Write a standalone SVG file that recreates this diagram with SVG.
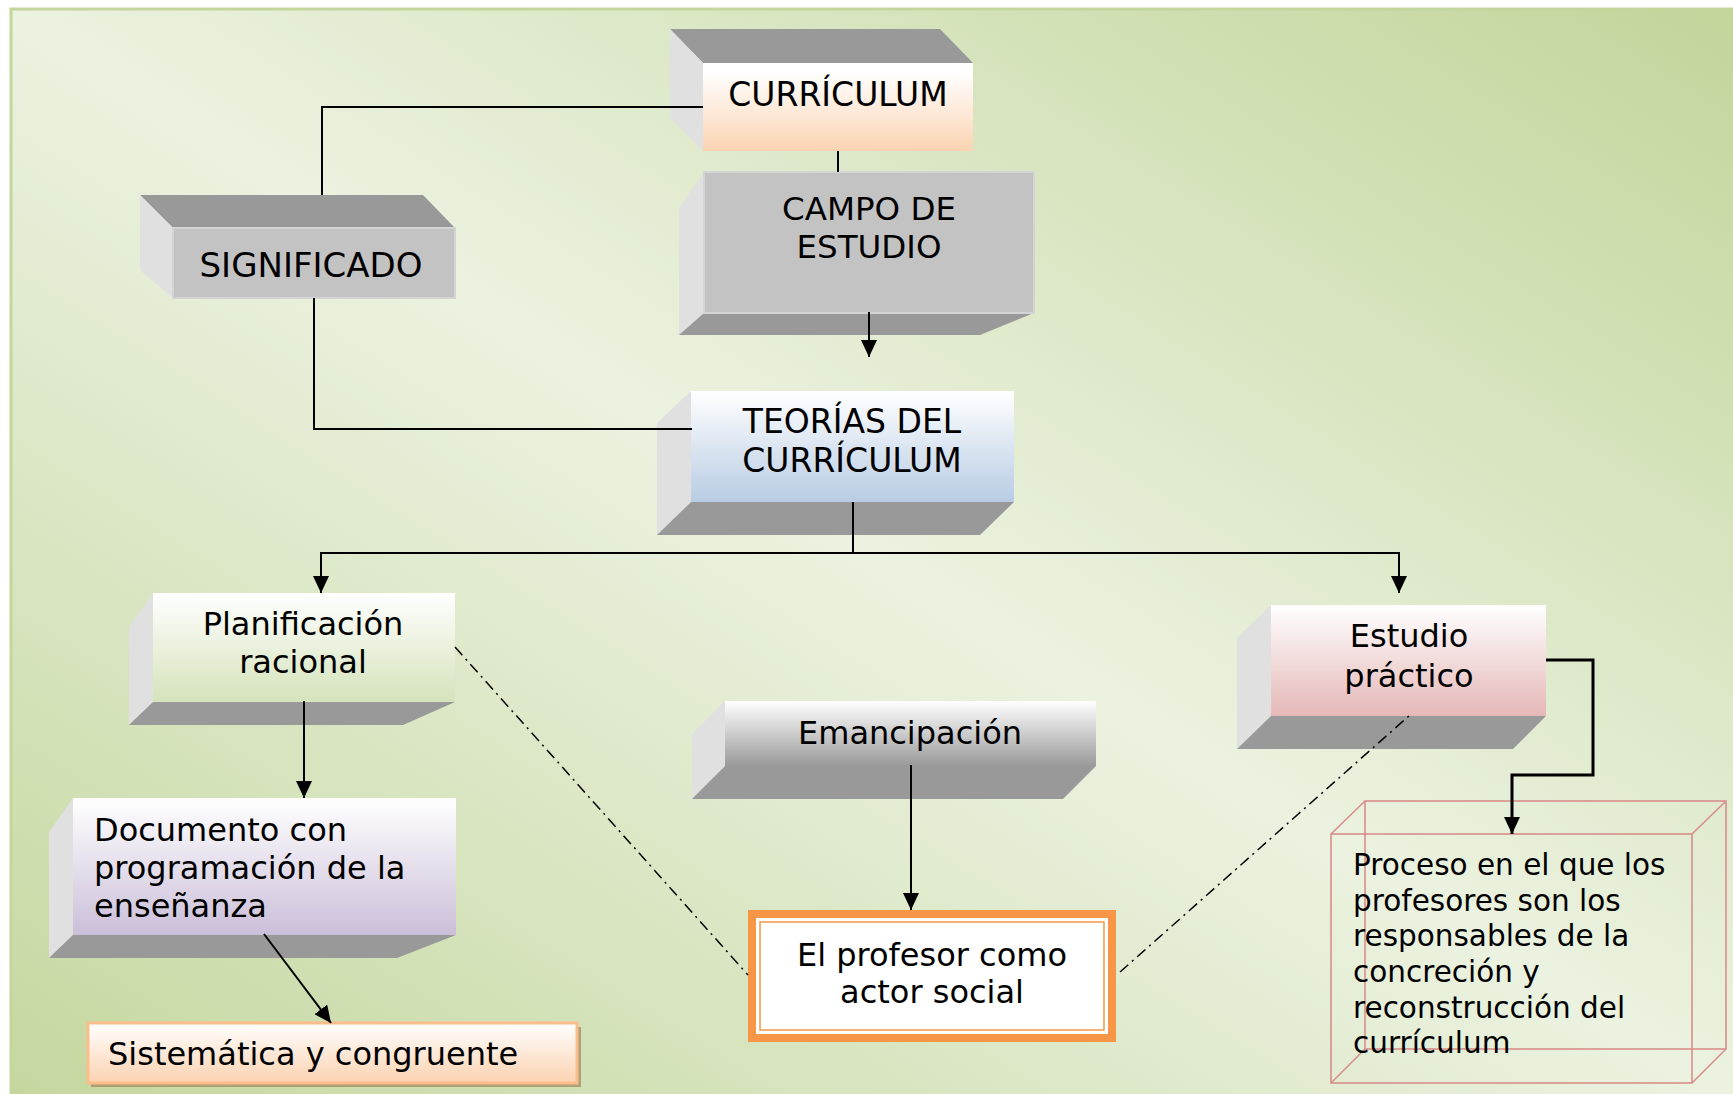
<svg xmlns="http://www.w3.org/2000/svg" width="1733" height="1094" viewBox="0 0 1733 1094">
<defs>
<linearGradient id="bg" x1="1" y1="0" x2="0" y2="1">
<stop offset="0" stop-color="#c2d59a"/>
<stop offset="0.5" stop-color="#ebf2e0"/>
<stop offset="1" stop-color="#c5d79f"/>
</linearGradient>
<linearGradient id="gPeach" x1="0" y1="0" x2="0" y2="1"><stop offset="0.1" stop-color="#ffffff"/><stop offset="1" stop-color="#fbd3b2"/></linearGradient>
<linearGradient id="gBlue" x1="0" y1="0" x2="0" y2="1"><stop offset="0" stop-color="#ffffff"/><stop offset="1" stop-color="#b8cce4"/></linearGradient>
<linearGradient id="gGreen" x1="0" y1="0" x2="0" y2="1"><stop offset="0" stop-color="#ffffff"/><stop offset="1" stop-color="#d5e3bb"/></linearGradient>
<linearGradient id="gPurple" x1="0" y1="0" x2="0" y2="1"><stop offset="0" stop-color="#ffffff"/><stop offset="1" stop-color="#cbbfd9"/></linearGradient>
<linearGradient id="gPink" x1="0" y1="0" x2="0" y2="1"><stop offset="0" stop-color="#ffffff"/><stop offset="1" stop-color="#e5b8b7"/></linearGradient>
<linearGradient id="gGray" x1="0" y1="0" x2="0" y2="1"><stop offset="0" stop-color="#ffffff"/><stop offset="1" stop-color="#9a9a9a"/></linearGradient>
<linearGradient id="gSist" x1="0" y1="0" x2="0" y2="1"><stop offset="0" stop-color="#ffffff"/><stop offset="1" stop-color="#fbd2b0"/></linearGradient>
<marker id="arr" markerUnits="userSpaceOnUse" markerWidth="17" markerHeight="16" refX="17" refY="8" orient="auto">
<path d="M0,0 L17,8 L0,16 z" fill="#000"/>
</marker>
<style>
text{font-family:"DejaVu Sans","Liberation Sans",sans-serif;font-size:32px;fill:#000}
.c{text-anchor:middle}
.up{font-size:33px}
.pr{font-size:29.5px}
.side{fill:#e0e0e0}
.dark{fill:#999999}
.flat{fill:#c3c3c3;stroke:#d4d4d4;stroke-width:2}
.con{fill:none;stroke:#000;stroke-width:2}
.dd{fill:none;stroke:#000;stroke-width:1.5;stroke-dasharray:11 5 2 5}
.cube{fill:none;stroke:#d98e8b;stroke-width:1.6}
</style>
</defs>

<rect x="10" y="8" width="1723" height="1086" fill="url(#bg)"/>
<path d="M11,1094 V9 H1733" fill="none" stroke="#c3d69b" stroke-width="3"/>

<g id="curriculum">
<polygon class="dark" points="670,29 940,29 973,63 703,63"/>
<polygon class="side" points="670,29 703,63 703,151 670,118"/>
<rect x="703" y="63" width="270" height="88" fill="url(#gPeach)"/>
<text class="c up" x="838" y="106">CURRÍCULUM</text>
</g>

<g id="significado">
<polygon class="dark" points="140,195 423,195 455,228 173,228"/>
<polygon class="side" points="140,195 173,228 173,298 140,270"/>
<rect class="flat" x="173" y="228" width="282" height="70"/>
<text class="c" x="311" y="277" style="font-size:34px">SIGNIFICADO</text>
</g>

<g id="campo">
<polygon class="side" points="679,208 704,172 704,313 679,335"/>
<polygon class="dark" points="704,313 1034,313 980,335 679,335"/>
<rect class="flat" x="704" y="172" width="330" height="141"/>
<text class="c" x="869" y="220" style="font-size:32.5px">CAMPO DE</text>
<text class="c" x="869" y="258" style="font-size:32.5px">ESTUDIO</text>
</g>

<g id="teorias">
<polygon class="side" points="657,423 691,391 691,502 657,535"/>
<polygon class="dark" points="691,502 1014,502 980,535 657,535"/>
<rect x="691" y="391" width="323" height="111" fill="url(#gBlue)"/>
<text class="c up" x="852" y="433">TEORÍAS DEL</text>
<text class="c up" x="852" y="472">CURRÍCULUM</text>
</g>

<g id="planificacion">
<polygon class="side" points="129,627 153,593 153,702 129,725"/>
<polygon class="dark" points="153,702 455,702 403,725 129,725"/>
<rect x="153" y="593" width="302" height="109" fill="url(#gGreen)"/>
<text class="c" x="303" y="635">Planificación</text>
<text class="c" x="303" y="673">racional</text>
</g>

<g id="documento">
<polygon class="side" points="49,832 73,798 73,935 49,958"/>
<polygon class="dark" points="73,935 456,935 397,958 49,958"/>
<rect x="73" y="798" width="383" height="137" fill="url(#gPurple)"/>
<text x="94" y="841">Documento con</text>
<text x="94" y="879">programación de la</text>
<text x="94" y="917">enseñanza</text>
</g>

<g id="sistematica">
<rect x="91" y="1027" width="490" height="60" fill="#a89066" opacity="0.8"/>
<rect x="88" y="1023" width="489" height="60" fill="url(#gSist)" stroke="#f9be8c" stroke-width="3"/>
<text x="108" y="1065">Sistemática y congruente</text>
</g>

<g id="emancipacion">
<polygon class="side" points="692,734 725,701 725,766 692,799"/>
<polygon class="dark" points="725,766 1096,766 1063,799 692,799"/>
<rect x="725" y="701" width="371" height="65" fill="url(#gGray)"/>
<text class="c" x="910" y="744">Emancipación</text>
</g>

<g id="profesor">
<rect x="748" y="910" width="368" height="132" fill="#f79646"/>
<rect x="756" y="918" width="352" height="116" fill="#ffffff"/>
<rect x="760" y="922" width="344" height="108" fill="#ffffff" stroke="#f79646" stroke-width="1.5"/>
<text class="c" x="932" y="966">El profesor como</text>
<text class="c" x="932" y="1003">actor social</text>
</g>

<g id="estudio">
<polygon class="side" points="1237,638 1271,605 1271,716 1237,749"/>
<polygon class="dark" points="1271,716 1546,716 1513,749 1237,749"/>
<rect x="1271" y="605" width="275" height="111" fill="url(#gPink)"/>
<text class="c" x="1409" y="647">Estudio</text>
<text class="c" x="1409" y="687">práctico</text>
</g>

<g id="proceso">
<rect class="cube" x="1365" y="801" width="361" height="248"/>
<rect class="cube" x="1331" y="834" width="361" height="249"/>
<line class="cube" x1="1331" y1="834" x2="1365" y2="801"/>
<line class="cube" x1="1692" y1="834" x2="1726" y2="801"/>
<line class="cube" x1="1692" y1="1083" x2="1726" y2="1049"/>
<line class="cube" x1="1331" y1="1083" x2="1365" y2="1049"/>
<text class="pr" x="1353" y="875">Proceso en el que los</text>
<text class="pr" x="1353" y="911">profesores son los</text>
<text class="pr" x="1353" y="946">responsables de la</text>
<text class="pr" x="1353" y="982">concreción y</text>
<text class="pr" x="1353" y="1018">reconstrucción del</text>
<text class="pr" x="1353" y="1053">currículum</text>
</g>

<g id="connectors">
<polyline class="con" points="703,107 322,107 322,195"/>
<line class="con" x1="838" y1="151" x2="838" y2="172"/>
<line class="con" x1="869" y1="312" x2="869" y2="357" marker-end="url(#arr)"/>
<polyline class="con" points="314,298 314,429 692,429"/>
<line class="con" x1="853" y1="502" x2="853" y2="553"/>
<line class="con" x1="321" y1="553" x2="1400" y2="553"/>
<line class="con" x1="321" y1="552" x2="321" y2="593" marker-end="url(#arr)"/>
<line class="con" x1="1399" y1="552" x2="1399" y2="593" marker-end="url(#arr)"/>
<line class="con" x1="304" y1="701" x2="304" y2="798" marker-end="url(#arr)"/>
<line class="con" x1="264" y1="934" x2="331" y2="1023" marker-end="url(#arr)"/>
<line class="con" x1="911" y1="765" x2="911" y2="910" marker-end="url(#arr)"/>
<polyline class="con" style="stroke-width:3" points="1546,660 1593,660 1593,775 1512,775 1512,834" marker-end="url(#arr)"/>
<line class="dd" x1="455" y1="647" x2="748" y2="975"/>
<line class="dd" x1="1120" y1="972" x2="1410" y2="715"/>
</g>
</svg>
